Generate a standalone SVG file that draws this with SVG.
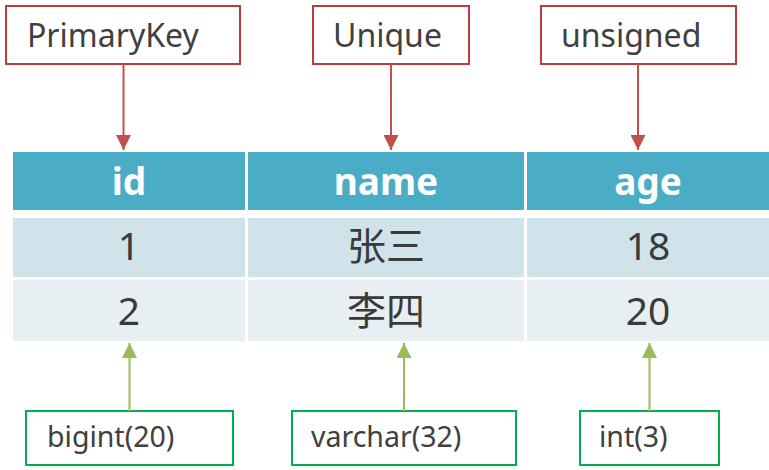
<svg xmlns="http://www.w3.org/2000/svg" width="769" height="470" viewBox="0 0 769 470">
<defs>
<style>
.lbl{font-family:"Noto Sans","Open Sans","Liberation Sans",sans-serif;font-size:32px;fill:#404040}
.blbl{font-family:"Noto Sans","Open Sans","Liberation Sans",sans-serif;font-size:28.5px;fill:#404040}
.hdr{font-family:"Noto Sans","Open Sans","Liberation Sans",sans-serif;font-size:37px;font-weight:bold;fill:#ffffff;text-anchor:middle}
.cell{font-family:"Noto Sans","Noto Sans CJK SC",sans-serif;font-size:39px;fill:#3a3a3a;text-anchor:middle}
.rbox{fill:#ffffff;stroke:#C0393B;stroke-width:2}
.gbox{fill:#ffffff;stroke:#00B050;stroke-width:2}
.rline{stroke:#C0504D;stroke-width:2;fill:none}
.gline{stroke:#9BBB59;stroke-width:2;fill:none}
</style>
<marker id="ra" viewBox="0 0 10 10" refX="10" refY="5" markerWidth="15" markerHeight="15" markerUnits="userSpaceOnUse" orient="auto">
<path d="M0,0 L10,5 L0,10 Z" fill="#C0504D"/>
</marker>
<marker id="ga" viewBox="0 0 10 10" refX="10" refY="5" markerWidth="15" markerHeight="15" markerUnits="userSpaceOnUse" orient="auto">
<path d="M0,0 L10,5 L0,10 Z" fill="#9BBB59"/>
</marker>
</defs>
<g id="table">
<rect x="13" y="152" width="232" height="58" fill="#4BACC6"/>
<rect x="248" y="152" width="276" height="58" fill="#4BACC6"/>
<rect x="527" y="152" width="242" height="58" fill="#4BACC6"/>
<rect x="13" y="218" width="232" height="59" fill="#D0E3EA"/>
<rect x="248" y="218" width="276" height="59" fill="#D0E3EA"/>
<rect x="527" y="218" width="242" height="59" fill="#D0E3EA"/>
<rect x="13" y="280" width="232" height="61" fill="#E8EFF3"/>
<rect x="248" y="280" width="276" height="61" fill="#E8EFF3"/>
<rect x="527" y="280" width="242" height="61" fill="#E8EFF3"/>
<text class="hdr" x="129" y="195">id</text>
<text class="hdr" x="386" y="195">name</text>
<text class="hdr" x="648" y="195">age</text>
<text class="cell" x="129" y="260">1</text>
<text class="cell" x="386" y="260">张三</text>
<text class="cell" x="648" y="260">18</text>
<text class="cell" x="129" y="325">2</text>
<text class="cell" x="386" y="325">李四</text>
<text class="cell" x="648" y="325">20</text>
</g>
<g id="primarykey"><rect class="rbox" x="6" y="6" width="234" height="58"/><text class="lbl" x="27" y="47">PrimaryKey</text></g>
<g id="unique"><rect class="rbox" x="313" y="6" width="156" height="58"/><text class="lbl" x="333" y="47">Unique</text></g>
<g id="unsigned"><rect class="rbox" x="541" y="6" width="195" height="58"/><text class="lbl" x="561" y="47">unsigned</text></g>
<g id="bigint"><rect class="gbox" x="26" y="411" width="207" height="54"/><text class="blbl" x="47" y="447">bigint(20)</text></g>
<g id="varchar"><rect class="gbox" x="292" y="411" width="224" height="54"/><text class="blbl" x="311" y="447">varchar(32)</text></g>
<g id="int"><rect class="gbox" x="580" y="411" width="139" height="54"/><text class="blbl" x="599" y="447">int(3)</text></g>
<g id="connectors">
<line class="rline" x1="123.5" y1="64" x2="123.5" y2="150" marker-end="url(#ra)"/>
<line class="rline" x1="391" y1="64" x2="391" y2="150" marker-end="url(#ra)"/>
<line class="rline" x1="638" y1="64" x2="638" y2="150" marker-end="url(#ra)"/>
<line class="gline" x1="129.5" y1="411" x2="129.5" y2="343" marker-end="url(#ga)"/>
<line class="gline" x1="404" y1="411" x2="404" y2="343" marker-end="url(#ga)"/>
<line class="gline" x1="649.5" y1="411" x2="649.5" y2="343" marker-end="url(#ga)"/>
</g>
</svg>
